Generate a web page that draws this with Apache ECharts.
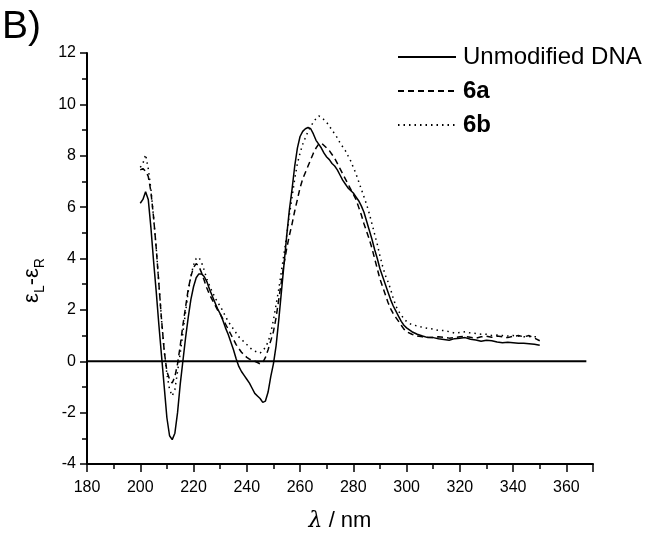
<!DOCTYPE html>
<html>
<head>
<meta charset="utf-8">
<script src="https://cdn.jsdelivr.net/npm/echarts@6/dist/echarts.min.js"></script>
<style>
  html, body { margin: 0; padding: 0; background: #fff; }
  #chart { width: 663px; height: 537px; }
</style>
</head>
<body>
<div id="chart"></div>
<script>
// wavelength (nm): 1 nm steps up to 300, then 2 nm
const wavelength = [];
for (let w = 200; w <= 300; w++) wavelength.push(w);
for (let w = 302; w <= 350; w += 2) wavelength.push(w);

const unmodified = [
  6.15, 6.3, 6.6, 6.3, 5.2, 3.9, 2.7, 1.4, 0.2, -1.0,
  -2.2, -2.9, -3.05, -2.8, -2.0, -0.9, 0.0, 0.9, 1.7, 2.4,
  2.9, 3.25, 3.4, 3.4, 3.3, 3.1, 2.8, 2.55, 2.3, 2.05,
  1.85, 1.6, 1.3, 1.05, 0.75, 0.45, 0.1, -0.2, -0.4, -0.55,
  -0.7, -0.85, -1.05, -1.25, -1.35, -1.45, -1.6, -1.55, -1.2, -0.6,
  -0.1, 0.6, 1.6, 2.7, 3.8, 4.9, 5.9, 6.7, 7.6, 8.3,
  8.75, 8.95, 9.05, 9.1, 9.05, 8.85, 8.6, 8.45, 8.3, 8.1,
  7.95, 7.85, 7.7, 7.6, 7.45, 7.25, 7.05, 6.9, 6.75, 6.65,
  6.55, 6.4, 6.25, 6.05, 5.8, 5.45, 5.1, 4.75, 4.35, 4.0,
  3.6, 3.3, 3.0, 2.7, 2.4, 2.15, 1.95, 1.75, 1.55, 1.4,
  1.3,
  1.15, 1.05, 0.98, 0.92, 0.92, 0.88, 0.85, 0.82, 0.88, 0.9,
  0.92, 0.86, 0.83, 0.78, 0.82, 0.8, 0.75, 0.72, 0.74, 0.72,
  0.7, 0.7, 0.68, 0.66, 0.62
];

const dna6a = [
  7.45, 7.5, 7.4, 7.2, 6.6, 5.6, 4.4, 3.0, 1.6, 0.4,
  -0.4, -0.7, -0.85, -0.6, -0.1, 0.6, 1.4, 2.1, 2.8, 3.3,
  3.65, 3.8, 3.7, 3.45, 3.15, 2.85, 2.6, 2.4, 2.2, 2.0,
  1.85, 1.65, 1.45, 1.25, 1.05, 0.85, 0.65, 0.5, 0.35, 0.25,
  0.15, 0.08, 0.03, 0.0, -0.05, -0.1, -0.05, 0.15, 0.45, 0.8,
  1.15, 1.7, 2.4, 3.1, 3.8, 4.4, 4.9, 5.35, 5.85, 6.3,
  6.75, 7.1, 7.35, 7.6, 7.85, 8.1, 8.3, 8.45, 8.5, 8.4,
  8.3, 8.2, 8.05, 7.9, 7.7, 7.5, 7.3, 7.1, 6.9, 6.7,
  6.5, 6.3, 6.0, 5.7, 5.35, 5.05, 4.75, 4.4, 4.0, 3.6,
  3.2, 2.9, 2.6, 2.3, 2.05, 1.85, 1.7, 1.55, 1.4, 1.25,
  1.15,
  1.05, 0.98, 0.95, 0.93, 0.92, 0.95, 0.93, 0.9, 0.92, 0.95,
  0.97, 0.93, 0.9, 0.95, 0.97, 0.93, 0.98, 0.95, 0.92, 0.97,
  1.0, 0.95, 1.0, 0.9, 0.8
];

const dna6b = [
  7.55, 7.7, 8.05, 7.5, 6.7, 5.6, 4.4, 3.0, 1.6, 0.4,
  -0.5, -1.1, -1.35, -1.1, -0.4, 0.3, 1.1, 1.9, 2.7, 3.3,
  3.75, 4.0, 4.05, 3.85, 3.55, 3.2, 2.95, 2.7, 2.5, 2.3,
  2.15, 1.95, 1.75, 1.55, 1.4, 1.25, 1.1, 0.95, 0.85, 0.75,
  0.65, 0.55, 0.45, 0.4, 0.35, 0.32, 0.4, 0.55, 0.75, 1.1,
  1.6, 2.2, 2.8, 3.5, 4.2, 4.9, 5.7, 6.4, 7.1, 7.7,
  8.1, 8.45, 8.7, 8.95, 9.15, 9.3, 9.45, 9.55, 9.5, 9.4,
  9.3, 9.15, 9.0, 8.85, 8.7, 8.5, 8.35, 8.2, 8.0, 7.8,
  7.55, 7.3, 7.0, 6.7, 6.4, 6.1, 5.75, 5.35, 4.95, 4.55,
  4.1, 3.7, 3.35, 3.1, 2.8, 2.45, 2.15, 1.95, 1.8, 1.65,
  1.55,
  1.42, 1.38, 1.32, 1.28, 1.25, 1.2, 1.2, 1.15, 1.1, 1.12,
  1.15, 1.1, 1.08, 1.05, 1.05, 1.0, 1.02, 1.0, 0.98, 1.0,
  0.98, 0.95, 0.96, 0.95, 0.95
];

const zeroLine = [[180, 0], [367.5, 0]];
const xTicks = { min: 180, max: 370, interval: 20 };
const yTicks = { min: -4, max: 12, interval: 2 };

const chart = echarts.init(document.getElementById("chart"));

const pairs = (vals) => wavelength.map((w, i) => [w, vals[i]]);

const lineSeries = (name, vals, type) => ({
  name: name,
  type: "line",
  symbol: "none",
  smooth: false,
  color: "#000",
  lineStyle: { color: "#000", width: 1.5, type: type },
  data: pairs(vals),
});

const option = {
  backgroundColor: "#fff",
  animation: false,
  textStyle: { fontFamily: "Liberation Sans, Arial, sans-serif", color: "#000" },
  graphic: [
    {
      type: "text",
      left: 2,
      top: 8,
      style: { text: "B)", fontSize: 39, fill: "#000", fontFamily: "Liberation Sans" },
    },
  ],
  legend: {
    orient: "vertical",
    left: 397,
    top: 45,
    padding: 0,
    itemWidth: 58,
    itemHeight: 14,
    itemGap: 10,
    itemStyle: { opacity: 0 },
    textStyle: { fontSize: 24, color: "#000", fontFamily: "Liberation Sans", padding: [0, 0, 0, 2] },
    data: [
      { name: "Unmodified DNA" },
      { name: "6a", textStyle: { fontWeight: "bold" } },
      { name: "6b", textStyle: { fontWeight: "bold" } },
    ],
  },
  grid: { left: 87, right: 70, top: 53, bottom: 73 },
  xAxis: {
    type: "value",
    min: xTicks.min,
    max: xTicks.max,
    interval: xTicks.interval,
    name: "{i|λ} / nm",
    nameLocation: "middle",
    nameGap: 46,
    nameTextStyle: {
      fontSize: 22,
      color: "#000",
      rich: { i: { fontSize: 22, fontStyle: "italic", fontFamily: "DejaVu Serif" } },
    },
    axisLine: { onZero: false, lineStyle: { color: "#000", width: 2 } },
    axisTick: { inside: false, length: 8, lineStyle: { color: "#000", width: 1.5 } },
    minorTick: { show: true, splitNumber: 2, length: 5, lineStyle: { color: "#000", width: 1.5 } },
    axisLabel: { fontSize: 16, color: "#000", margin: 16, showMaxLabel: false },
    splitLine: { show: false },
  },
  yAxis: {
    type: "value",
    min: yTicks.min,
    max: yTicks.max,
    interval: yTicks.interval,
    name: "{a|ε}{s|L}{a|-ε}{s|R}",
    nameLocation: "middle",
    nameRotate: 90,
    nameGap: 40,
    nameTextStyle: {
      color: "#000",
      padding: [0, 44, 0, 0],
      rich: {
        a: { fontSize: 22, lineHeight: 22, verticalAlign: "top", fontFamily: "Liberation Sans" },
        s: { fontSize: 14, lineHeight: 14, verticalAlign: "top", padding: [12, 0, 0, 0], fontFamily: "Liberation Sans" },
      },
    },
    axisLine: { onZero: false, lineStyle: { color: "#000", width: 2 } },
    axisTick: { inside: false, length: 7, lineStyle: { color: "#000", width: 1.5 } },
    minorTick: { show: true, splitNumber: 2, length: 5, lineStyle: { color: "#000", width: 1.5 } },
    axisLabel: { fontSize: 16, color: "#000", margin: 11 },
    splitLine: { show: false },
  },
  series: [
    lineSeries("Unmodified DNA", unmodified, "solid"),
    lineSeries("6a", dna6a, [6, 4]),
    lineSeries("6b", dna6b, [1.5, 4]),
    {
      type: "line",
      symbol: "none",
      silent: true,
      color: "#000",
      lineStyle: { color: "#000", width: 2 },
      data: zeroLine,
    },
  ],
};

chart.setOption(option);
</script>
</body>
</html>
